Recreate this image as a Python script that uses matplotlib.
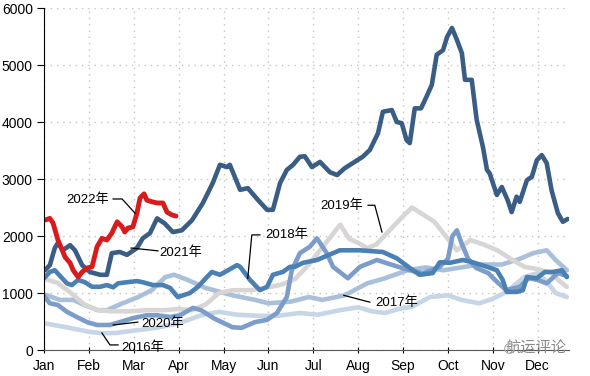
import matplotlib
matplotlib.use("Agg")
import matplotlib.pyplot as plt

plt.rcParams['font.family'] = ['Liberation Sans', 'Noto Sans CJK SC', 'DejaVu Sans']

months = ['Jan', 'Feb', 'Mar', 'Apr', 'May', 'Jun', 'Jul', 'Aug', 'Sep', 'Oct', 'Nov', 'Dec']
y_ticks = [0, 1000, 2000, 3000, 4000, 5000, 6000]

# x positions are in months from Jan 1 (0 = Jan, 11 = Dec)
x_2016 = [0.0, 0.5, 1.0, 1.3, 1.6, 2.0, 2.5, 3.0, 3.5, 3.9, 4.3, 4.8, 5.2, 5.7, 6.1, 6.6, 7.0, 7.3, 7.6, 7.9,
          8.2, 8.6, 9.0, 9.3, 9.7, 10.0, 10.3, 10.7, 11.0, 11.2, 11.4, 11.65]
y_2016 = [470, 400, 320, 295, 300, 340, 390, 470, 610, 670, 620, 600, 600, 650, 620, 700, 750, 680, 650, 720,
          760, 930, 960, 880, 820, 900, 1020, 1280, 1350, 1200, 1000, 930]

x_2017 = [0.0, 0.35, 0.65, 0.9, 1.2, 1.4, 1.75, 2.1, 2.4, 2.7, 2.9, 3.2, 3.6, 4.2, 4.7, 5.0, 5.5, 5.9, 6.2, 6.7,
          7.2, 7.6, 8.1, 8.5, 8.9, 9.3, 9.7, 10.2, 10.6, 10.9, 11.2, 11.4, 11.65]
y_2017 = [980, 880, 880, 790, 700, 700, 820, 930, 1050, 1280, 1320, 1230, 1090, 960, 880, 820, 850, 930, 880, 960,
          1170, 1260, 1400, 1450, 1400, 1450, 1500, 1500, 1600, 1700, 1750, 1580, 1400]

x_2018 = [0.0, 0.13, 0.24, 0.51, 0.62, 0.76, 0.91, 1.07, 1.25, 1.40, 1.54, 1.65, 1.85, 2.07, 2.20, 2.43, 2.65,
          2.81, 2.98, 3.25, 3.43, 3.63, 3.74, 3.92, 4.10, 4.30, 4.37, 4.59, 4.81, 4.97, 5.10, 5.32, 5.48, 5.59,
          5.77, 6.08, 6.59, 7.04, 7.55, 7.86, 8.15, 8.37, 8.66, 8.82, 9.04, 9.33, 9.55, 9.87, 10.09, 10.22,
          10.31, 10.53, 10.67, 10.76, 10.98, 11.16, 11.34, 11.54, 11.65]
y_2018 = [1260, 1370, 1400, 1170, 1140, 1230, 1190, 1110, 1110, 1140, 1100, 1170, 1190, 1210, 1190, 1140, 1140,
          1090, 930, 1000, 1110, 1280, 1370, 1320, 1400, 1490, 1460, 1230, 1050, 1110, 1320, 1370, 1460, 1460,
          1530, 1580, 1750, 1750, 1720, 1610, 1440, 1320, 1350, 1540, 1530, 1580, 1540, 1460, 1400, 1230,
          1020, 1020, 1050, 1280, 1260, 1370, 1370, 1400, 1280]

x_2019 = [0.0, 0.3, 0.6, 0.9, 1.2, 1.5, 1.9, 2.3, 2.7, 3.0, 3.3, 3.6, 3.9, 4.2, 4.6, 5.0, 5.3, 5.6, 5.9, 6.2,
          6.5, 6.6, 6.8, 7.0, 7.2, 7.4, 7.7, 8.0, 8.2, 8.4, 8.7, 9.0, 9.2, 9.5, 9.8, 10.1, 10.4, 10.7, 11.0,
          11.3, 11.5, 11.65]
y_2019 = [1250, 1180, 1000, 800, 700, 680, 680, 700, 700, 720, 700, 800, 1000, 1050, 1050, 1100, 1150, 1250,
          1500, 1800, 2100, 2200, 1950, 1880, 1790, 1850, 2100, 2350, 2500, 2400, 2250, 1950, 1750, 1930,
          1850, 1750, 1600, 1460, 1420, 1350, 1200, 1110]

x_2020 = [0.0, 0.13, 0.31, 0.51, 0.73, 0.96, 1.18, 1.47, 1.69, 1.98, 2.29, 2.52, 2.81, 3.03, 3.32, 3.5, 3.8,
          4.2, 4.4, 4.7, 4.97, 5.19, 5.41, 5.52, 5.63, 5.7, 5.92, 6.08, 6.3, 6.44, 6.77, 7.04, 7.42, 7.77,
          8.15, 8.44, 8.8, 9.0, 9.1, 9.2, 9.3, 9.45, 9.63, 9.9, 10.1, 10.3, 10.6, 10.8, 11.0, 11.2, 11.45,
          11.65]
y_2020 = [950, 820, 790, 670, 580, 490, 440, 440, 490, 560, 610, 610, 580, 610, 740, 700, 550, 400, 390, 490,
          530, 650, 930, 1400, 1580, 1700, 1810, 1960, 1700, 1460, 1260, 1460, 1580, 1490, 1400, 1350, 1450,
          1600, 2000, 2100, 1880, 1600, 1440, 1350, 1190, 1050, 1110, 1260, 1230, 1170, 1350, 1300]

x_2021 = [0.02, 0.13, 0.24, 0.31, 0.42, 0.58, 0.69, 0.85, 1.02, 1.25, 1.40, 1.51, 1.69, 1.85, 2.07, 2.20, 2.36,
          2.52, 2.69, 2.87, 3.07, 3.30, 3.54, 3.76, 3.92, 4.08, 4.14, 4.37, 4.54, 4.77, 4.97, 5.10, 5.26, 5.41,
          5.55, 5.70, 5.81, 5.97, 6.15, 6.37, 6.53, 6.70, 6.88, 7.10, 7.26, 7.44, 7.55, 7.75, 7.86, 7.97, 8.08,
          8.15, 8.26, 8.40, 8.49, 8.64, 8.75, 8.89, 8.98, 9.09, 9.20, 9.31, 9.38, 9.53, 9.64, 9.78, 9.87, 9.93,
          10.09, 10.20, 10.33, 10.42, 10.53, 10.60, 10.76, 10.87, 10.98, 11.09, 11.20, 11.31, 11.45, 11.56,
          11.67]
y_2021 = [1400, 1490, 1790, 1880, 1750, 1840, 1750, 1490, 1370, 1320, 1320, 1700, 1720, 1670, 1790, 1960, 2050,
          2310, 2220, 2070, 2100, 2280, 2580, 2930, 3250, 3210, 3250, 2810, 2840, 2630, 2460, 2460, 2930, 3160,
          3250, 3390, 3400, 3210, 3300, 3120, 3070, 3190, 3280, 3390, 3510, 3800, 4180, 4210, 4000, 3980, 3680,
          3630, 4240, 4240, 4390, 4650, 5180, 5260, 5490, 5650, 5440, 5210, 4740, 4740, 4040, 3560, 3160, 3100,
          2720, 2860, 2630, 2420, 2690, 2600, 2980, 3040, 3330, 3420, 3280, 2800, 2400, 2250, 2300]

x_2022 = [0.02, 0.13, 0.20, 0.31, 0.47, 0.58, 0.65, 0.76, 0.85, 0.96, 1.07, 1.18, 1.29, 1.40, 1.51, 1.63, 1.74,
          1.80, 1.87, 1.98, 2.07, 2.14, 2.23, 2.29, 2.41, 2.52, 2.65, 2.74, 2.85, 2.94]
y_2022 = [2280, 2310, 2230, 1930, 1630, 1530, 1400, 1280, 1370, 1440, 1460, 1810, 1960, 1930, 2050, 2250, 2160,
          2070, 2140, 2160, 2400, 2670, 2740, 2630, 2600, 2580, 2580, 2420, 2370, 2350]

series = [
    (x_2016, y_2016, '#c6d6e6', 3.3),
    (x_2017, y_2017, '#a9bfda', 3.3),
    (x_2019, y_2019, '#d8d5d5', 3.3),
    (x_2020, y_2020, '#7c9dc9', 3.3),
    (x_2018, y_2018, '#4a80b3', 3.3),
    (x_2021, y_2021, '#3a5d85', 3.3),
    (x_2022, y_2022, '#d81c1c', 3.5),
]

fig = plt.figure(figsize=(5.9, 3.76), dpi=100)
ax = fig.add_axes([0.0746, 0.069, 0.89, 0.9097])

for xs, ys, c, lw in series:
    ax.plot(xs, ys, color=c, lw=lw, solid_joinstyle='round', solid_capstyle='round')

ax.set_xlim(0, 11.7)
ax.set_ylim(0, 6000)
ax.set_xticks(range(12))
ax.set_xticklabels(months)
ax.set_yticks(y_ticks)
ax.grid(True, color='#c4c4c4', linestyle=(0, (1, 3.5)), linewidth=1.0)
for s in ['top', 'right']:
    ax.spines[s].set_visible(False)
ax.spines['left'].set_color('#000000')
ax.spines['bottom'].set_color('#555555')
ax.tick_params(axis='y', direction='out', length=5, labelsize=10, pad=3, colors='#000000')
ax.tick_params(axis='x', direction='inout', length=5, labelsize=10, pad=4)

ann_fs = 9.5
def leader(pts):
    ax.plot([p[0] for p in pts], [p[1] for p in pts], color='black', lw=0.9, zorder=5)

ax.text(0.98, 2630, '2022年', fontsize=ann_fs, va='center', ha='center')
leader([(1.54, 2650), (1.74, 2650), (2.03, 2400)])

ax.text(3.05, 1700, '2021年', fontsize=ann_fs, va='center', ha='center')
leader([(1.94, 1790), (2.54, 1740)])

ax.text(5.41, 2020, '2018年', fontsize=ann_fs, va='center', ha='center')
leader([(4.81, 2020), (4.63, 2020), (4.54, 1260)])

ax.text(6.64, 2530, '2019年', fontsize=ann_fs, va='center', ha='center')
leader([(7.22, 2540), (7.37, 2540), (7.53, 2070)])

ax.text(7.86, 830, '2017年', fontsize=ann_fs, va='center', ha='center')
leader([(6.68, 960), (7.26, 840)])

ax.text(2.65, 470, '2020年', fontsize=ann_fs, va='center', ha='center')
leader([(1.54, 440), (2.09, 490)])

ax.text(2.2, 50, '2016年', fontsize=ann_fs, va='center', ha='center')
leader([(1.29, 300), (1.47, 90), (1.65, 90)])

# watermark
ax.text(11.65, 30, '航运评论', fontsize=11, color='#8a8a8a', ha='right', va='center', zorder=6)
ax.plot([10.35], [30], marker='o', ms=7, mfc='none', mec='#aaaaaa', mew=0.8, clip_on=False, zorder=6)

fig.savefig('out.png', dpi=100)
